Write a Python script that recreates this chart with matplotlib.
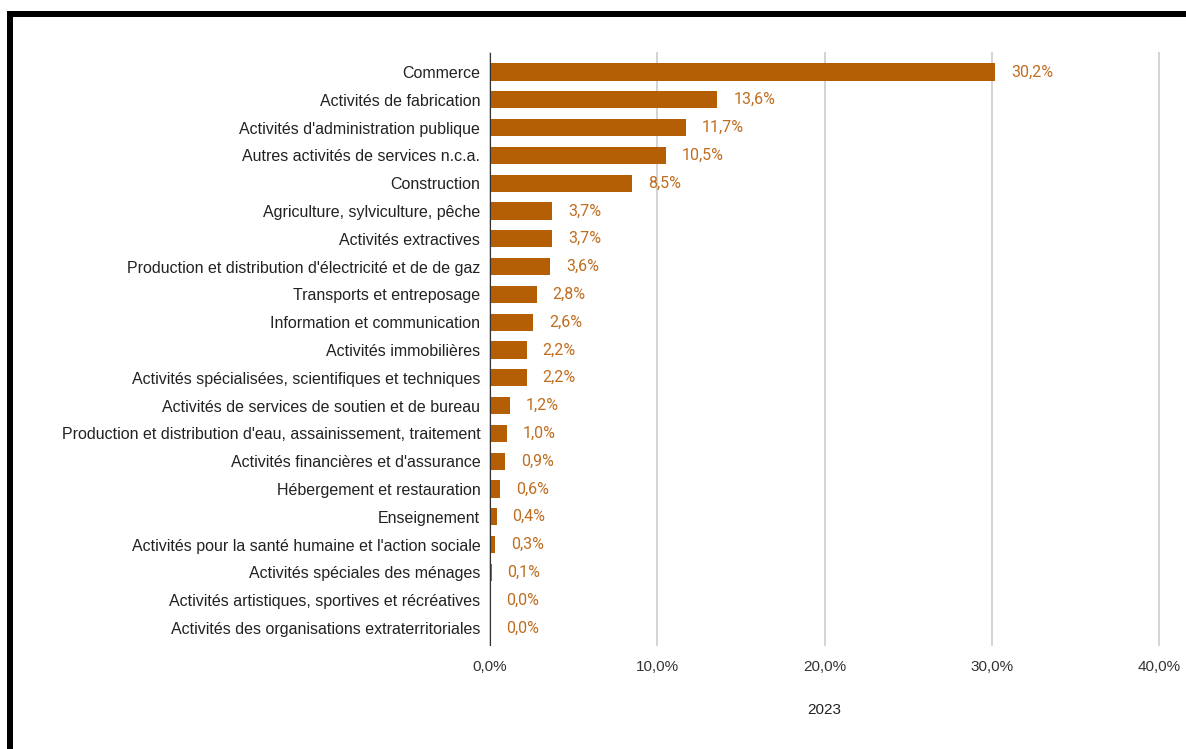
import matplotlib.pyplot as plt
from matplotlib.patches import Rectangle

categories = [
    "Commerce",
    "Activités de fabrication",
    "Activités d'administration publique",
    "Autres activités de services n.c.a.",
    "Construction",
    "Agriculture, sylviculture, pêche",
    "Activités extractives",
    "Production et distribution d'électricité et de de gaz",
    "Transports et entreposage",
    "Information et communication",
    "Activités immobilières",
    "Activités spécialisées, scientifiques et techniques",
    "Activités de services de soutien et de bureau",
    "Production et distribution d'eau, assainissement, traitement",
    "Activités financières et d'assurance",
    "Hébergement et restauration",
    "Enseignement",
    "Activités pour la santé humaine et l'action sociale",
    "Activités spéciales des ménages",
    "Activités artistiques, sportives et récréatives",
    "Activités des organisations extraterritoriales",
]
values = [30.2, 13.6, 11.7, 10.5, 8.5, 3.7, 3.7, 3.6, 2.8, 2.6, 2.2, 2.2,
          1.2, 1.0, 0.9, 0.6, 0.4, 0.3, 0.1, 0.0, 0.0]
xticks = [0, 10, 20, 30, 40]
xtick_labels = ["0,0%", "10,0%", "20,0%", "30,0%", "40,0%"]
xlabel = "2023"

bar_color = "#b45f06"
label_color = "#c06d20"

fig = plt.figure(figsize=(11.86, 7.49), dpi=100)
ax = fig.add_axes([490 / 1186, 1 - 645 / 749, (1159 - 490) / 1186, (645 - 53) / 749])

ypos = list(range(len(categories)))
ax.barh(ypos, values, height=0.62, color=bar_color, zorder=3)
for y, v in zip(ypos, values):
    ax.text(v + 0.95, y, f"{v:.1f}%".replace(".", ","), va="center", ha="left",
            color=label_color, fontsize=11.5, family="Roboto", zorder=4)

ax.set_xlim(0, 40)
ax.set_ylim(len(categories) - 1 + 0.61, -0.68)
ax.set_yticks(ypos)
ax.set_yticklabels(categories, family="Liberation Sans", fontsize=11.5, color="#222222")
ax.set_xticks(xticks)
ax.set_xticklabels(xtick_labels, family="Liberation Sans", fontsize=11, color="#333333")
ax.tick_params(axis="both", length=0)
ax.tick_params(axis="y", pad=7)
ax.tick_params(axis="x", pad=11)
ax.grid(axis="x", color="#cccccc", linewidth=1.2, zorder=0)
for gl in ax.get_xgridlines():
    gl.set_clip_on(False)
for s in ["top", "right", "bottom"]:
    ax.spines[s].set_visible(False)
ax.spines["left"].set_color("#333333")
ax.spines["left"].set_zorder(5)
ax.set_xlabel(xlabel, family="Liberation Sans", fontsize=11, color="#222222", labelpad=21)

# frame lines at top and left
fig.add_artist(Rectangle((7 / 1186, 0), 6 / 1186, 1 - 11 / 749, transform=fig.transFigure,
                         color="black", lw=0))
fig.add_artist(Rectangle((7 / 1186, 1 - 17 / 749), 1 - 7 / 1186, 6 / 749, transform=fig.transFigure,
                         color="black", lw=0))

fig.savefig("out.png", dpi=100)
